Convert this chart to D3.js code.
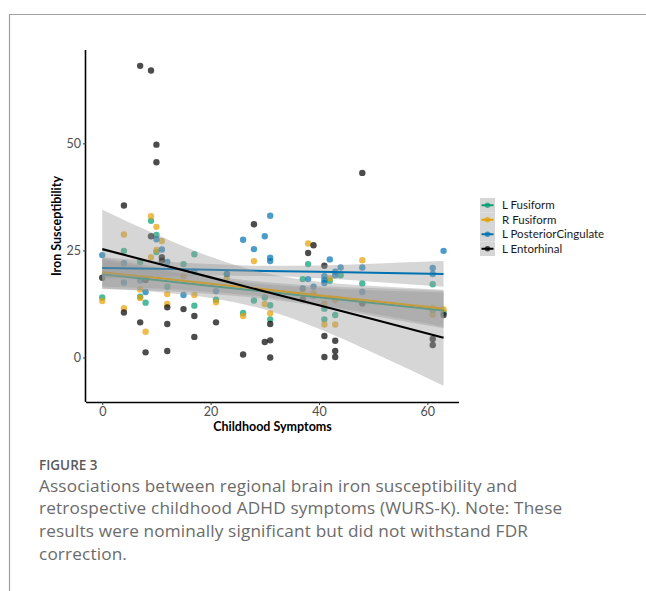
<!DOCTYPE html>
<html>
<head>
<meta charset="utf-8">
<script src="https://cdn.jsdelivr.net/npm/d3@7"></script>
<style>
  body { margin: 0; background: #fff; }
  svg { display: block; }
</style>
</head>
<body>
<div id="chart"></div>
<script>
// ---- data ----
var seriesNames = ["L Fusiform", "R Fusiform", "L PosteriorCingulate", "L Entorhinal"];
var seriesColors = ["#009E73", "#E69F00", "#0072B2", "#000000"];

// [childhood symptoms, iron susceptibility]
var lFusiform = [[0,14.0],[4,24.9],[7,22.3],[7,14.2],[8,12.8],[9,31.9],[10,28.6],[10,24.6],[12,16.5],[15,21.8],
  [17,24.1],[17,12.1],[21,13.5],[23,19.5],[26,10.4],[28,13.3],[30,14.0],[31,12.2],[31,8.9],[37,18.3],[38,21.8],
  [39,14.4],[41,11.4],[41,8.9],[42,17.9],[43,9.9],[44,19.2],[48,17.3],[61,17.1],[61,11.0],[63,10.5]];
var rFusiform = [[0,13.2],[4,28.7],[4,11.5],[7,15.9],[7,13.9],[8,6.0],[9,33.0],[9,23.4],[10,30.5],[10,25.1],
  [11,27.2],[12,14.8],[12,12.5],[15,19.0],[17,14.6],[21,12.9],[23,18.6],[26,9.7],[28,22.5],[30,12.5],[31,10.3],
  [37,16.0],[38,26.6],[39,15.0],[41,12.6],[41,7.7],[42,18.5],[43,13.4],[43,7.7],[48,22.7],[61,11.5],[61,10.0],[63,11.2]];
var lPosteriorCingulate = [[0,23.9],[4,22.0],[4,17.5],[7,18.0],[8,15.3],[10,27.6],[11,25.2],[12,22.3],[15,14.6],
  [17,20.0],[21,15.5],[23,19.5],[26,27.5],[28,25.3],[30,28.3],[31,33.1],[31,23.3],[31,22.5],[37,16.1],[38,18.3],
  [39,16.5],[41,19.0],[41,18.1],[41,17.4],[42,22.9],[43,20.0],[43,19.2],[44,21.0],[48,21.0],[48,15.3],[61,20.9],
  [61,19.5],[63,24.9]];
var lEntorhinal = [[0,18.6],[4,35.5],[4,10.5],[7,68.1],[7,8.2],[8,18.1],[8,1.2],[9,67.0],[9,28.3],[10,49.7],
  [10,45.6],[11,23.4],[11,22.6],[12,11.7],[12,7.8],[12,1.5],[15,11.3],[17,9.7],[17,4.8],[21,8.2],[26,0.7],[28,31.1],
  [30,3.6],[31,4.0],[31,7.8],[31,0.0],[37,13.6],[38,24.4],[39,26.2],[41,21.4],[41,5.0],[41,0.1],[43,3.9],[43,1.5],
  [43,0.1],[48,43.1],[48,12.6],[61,4.3],[61,2.9],[63,9.9]];

// linear fits + 95% bands, read at these x positions
var smoothX = [0, 10, 20, 30, 40, 50, 63];
var fitLFusiform = [19.4, 18.1, 16.7, 15.4, 14.1, 12.7, 11.0];
var loLFusiform  = [16.0, 15.6, 14.8, 13.7, 11.9, 9.7, 6.8];
var hiLFusiform  = [22.8, 20.6, 18.6, 17.1, 16.3, 15.7, 15.2];
var fitRFusiform = [19.9, 18.6, 17.2, 15.9, 14.5, 13.2, 11.4];
var loRFusiform  = [16.5, 16.1, 15.3, 14.2, 12.3, 10.2, 7.2];
var hiRFusiform  = [23.3, 21.1, 19.1, 17.6, 16.7, 16.2, 15.6];
var fitLPostCing = [20.9, 20.7, 20.5, 20.2, 20.0, 19.8, 19.5];
var loLPostCing  = [18.4, 18.8, 19.1, 19.0, 18.5, 17.7, 16.5];
var hiLPostCing  = [23.4, 22.5, 21.8, 21.4, 21.5, 21.9, 22.5];
var fitLEntorhinal = [25.3, 22.0, 18.7, 15.4, 12.2, 8.9, 4.6];
var loLEntorhinal  = [16.1, 15.3, 13.9, 11.2, 6.7, 1.1, -6.6];
var hiLEntorhinal  = [34.5, 28.7, 23.5, 19.7, 17.7, 16.7, 15.8];

var xTicks = [0, 20, 40, 60];
var yTicks = [0, 25, 50];
var xTitle = "Childhood Symptoms";
var yTitle = "Iron Susceptibility";
var figureLabel = "FIGURE 3";
var captionLines = [
  "Associations between regional brain iron susceptibility and",
  "retrospective childhood ADHD symptoms (WURS-K). Note: These",
  "results were nominally significant but did not withstand FDR",
  "correction."
];

var pointSets = [lFusiform, rFusiform, lPosteriorCingulate, lEntorhinal];
var fits = [
  {fit: fitLFusiform, lo: loLFusiform, hi: hiLFusiform},
  {fit: fitRFusiform, lo: loRFusiform, hi: hiRFusiform},
  {fit: fitLPostCing, lo: loLPostCing, hi: hiLPostCing},
  {fit: fitLEntorhinal, lo: loLEntorhinal, hi: hiLEntorhinal}
];

// ---- drawing ----
var W = 646, H = 591;
var svg = d3.select("#chart").append("svg").attr("width", W).attr("height", H);

// figure frame
svg.append("path").attr("d", "M9.5,591 V14.5 H646").attr("fill", "none")
  .attr("stroke", "#a0a0a0").attr("stroke-width", 1.2);

var panel = {left: 86, right: 459, top: 50, bottom: 402};
var x = d3.scaleLinear().domain([-3.0, 65.85]).range([panel.left, panel.right]);
var y = d3.scaleLinear().domain([-10.4, 71.8]).range([panel.bottom, panel.top]);

var plot = svg.append("g");

// points layer
pointSets.forEach(function(pts, i) {
  plot.append("g").selectAll("circle").data(pts).enter().append("circle")
    .attr("cx", function(d) { return x(d[0]); })
    .attr("cy", function(d) { return y(d[1]); })
    .attr("r", 3.2)
    .attr("fill", seriesColors[i])
    .attr("fill-opacity", 0.7);
});

// smooth layer: ribbon then line, per group
var band = d3.area()
  .x(function(d) { return x(d.x); })
  .y0(function(d) { return y(d.lo); })
  .y1(function(d) { return y(d.hi); })
  .curve(d3.curveMonotoneX);
var line = d3.line()
  .x(function(d) { return x(d.x); })
  .y(function(d) { return y(d.fit); });

fits.forEach(function(f, i) {
  var rows = smoothX.map(function(v, k) { return {x: v, fit: f.fit[k], lo: f.lo[k], hi: f.hi[k]}; });
  plot.append("path").datum(rows).attr("d", band)
    .attr("fill", "#999999").attr("fill-opacity", 0.4);
  plot.append("path").datum(rows).attr("d", line)
    .attr("fill", "none").attr("stroke", seriesColors[i]).attr("stroke-width", 2.1);
});

// axes
var tickFont = "Lato, 'Open Sans', sans-serif";
var xAxis = svg.append("g").attr("transform", "translate(0," + panel.bottom + ")")
  .call(d3.axisBottom(x).tickValues(xTicks).tickSize(3).tickSizeOuter(0).tickPadding(2));
var yAxis = svg.append("g").attr("transform", "translate(" + panel.left + ",0)")
  .call(d3.axisLeft(y).tickValues(yTicks).tickSize(3).tickSizeOuter(0).tickPadding(2));
[xAxis, yAxis].forEach(function(ax) {
  ax.select(".domain").attr("stroke", "#000").attr("stroke-width", 1.6);
  ax.selectAll(".tick line").attr("stroke", "#333").attr("stroke-width", 1);
  ax.selectAll(".tick text").attr("fill", "#4d4d4d").style("font-family", tickFont).style("font-size", "12.5px");
});
xAxis.select(".domain").attr("d", "M" + panel.left + ",0.5H" + panel.right);
yAxis.select(".domain").attr("d", "M-0.5," + panel.top + "V" + panel.bottom);

svg.append("text").attr("x", (panel.left + panel.right) / 2).attr("y", 431)
  .attr("text-anchor", "middle").style("font-family", tickFont).style("font-weight", "bold")
  .style("font-size", "12.5px").attr("fill", "#000").text(xTitle);
svg.append("text").attr("transform", "translate(61," + ((panel.top + panel.bottom) / 2) + ") rotate(-90)")
  .attr("text-anchor", "middle").style("font-family", tickFont).style("font-weight", "bold")
  .style("font-size", "12.5px").attr("fill", "#000").text(yTitle);

// legend
var legend = svg.append("g").attr("transform", "translate(480,198)");
var keyH = 14.5;
seriesNames.forEach(function(name, i) {
  var g = legend.append("g").attr("transform", "translate(0," + (i * keyH) + ")");
  g.append("rect").attr("width", 15).attr("height", keyH).attr("fill", "#d6d6d6");
  g.append("line").attr("x1", 1.5).attr("x2", 13.5).attr("y1", keyH / 2).attr("y2", keyH / 2)
    .attr("stroke", seriesColors[i]).attr("stroke-width", 2);
  g.append("circle").attr("cx", 7.5).attr("cy", keyH / 2).attr("r", 2.8)
    .attr("fill", seriesColors[i]).attr("fill-opacity", 0.7);
  g.append("text").attr("x", 22).attr("y", keyH / 2 + 4).style("font-family", tickFont)
    .style("font-size", "11.5px").attr("fill", "#1a1a1a").text(name);
});

// caption
var capFont = "'Open Sans', 'Noto Sans', sans-serif";
svg.append("text").attr("x", 39).attr("y", 469.5).style("font-family", capFont)
  .style("font-size", "13.5px").style("font-weight", 600).attr("fill", "#5a5a5a").text(figureLabel);
svg.append("g").selectAll("text").data(captionLines).enter().append("text")
  .attr("x", 39).attr("y", function(d, i) { return 491.7 + i * 22.6; })
  .style("font-family", capFont).style("font-size", "17.2px").style("letter-spacing", "0.15px")
  .attr("fill", "#6b6b6b").text(function(d) { return d; });
</script>
</body>
</html>
